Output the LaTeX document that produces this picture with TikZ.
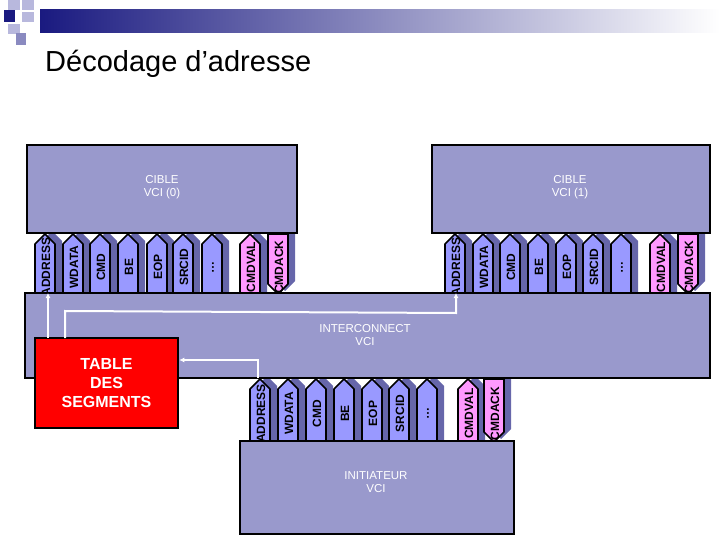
\documentclass[tikz,border=0pt]{standalone}
\usepackage{fontspec}
\setmainfont{Liberation Sans}
\usetikzlibrary{arrows.meta}
\begin{document}
\begin{tikzpicture}[x=1pt,y=-1pt,
  box/.style={draw=black,line width=2.5pt,fill=boxc},
  lbl/.style={text=white,font=\fontsize{11.5}{13}\selectfont,align=center},
  sig/.style={font=\bfseries\fontsize{12}{12}\selectfont,rotate=90,inner sep=0pt},
  wire/.style={draw=white,line width=2pt,-{Latex[length=5pt,width=5pt]}}]
\definecolor{boxc}{HTML}{9999CC}
\definecolor{portc}{HTML}{9999FF}
\definecolor{pinkc}{HTML}{FF99FF}
\definecolor{shadc}{HTML}{6666AA}
\definecolor{navy}{HTML}{1A1A80}
\definecolor{lsq}{HTML}{B8B8DD}
\definecolor{msq}{HTML}{8A8AC0}
\useasboundingbox (0,0) rectangle (720,540);
% header decoration
\shade[left color=navy,right color=white] (40,10) rectangle (720,33);
\fill[lsq] (8,0) rectangle (20,10);
\fill[lsq] (22,0) rectangle (34,10);
\fill[navy] (4,10) rectangle (15,22);
\fill[lsq] (22,12) rectangle (34,22);
\fill[lsq] (8,24) rectangle (20,34);
\fill[msq] (16,33) rectangle (26,45);
\node[anchor=base west,font=\fontsize{29}{32}\selectfont,inner sep=0pt] (title) at (45,72) {Décodage d’adresse};
% port macro
\newcommand\myport[6]{% x, ytop, ybot, label, fill, dir(u/d)
  \if#6u
   \fill[shadc] (#1-3,#3) -- (#1-3,#2+7) -- (#1+7,#2-3) -- (#1+17,#2+7) -- (#1+17,#3) -- cycle;
   \draw[fill=#5,line width=1.6pt,line join=round] (#1-10,#3) -- (#1-10,#2+10) -- (#1,#2) -- (#1+10,#2+10) -- (#1+10,#3) -- cycle;
  \else
   \fill[shadc] (#1-3,#2-3) -- (#1-3,#3-13) -- (#1+7,#3-3) -- (#1+17,#3-13) -- (#1+17,#2-3) -- cycle;
   \draw[fill=#5,line width=1.6pt,line join=round] (#1-10,#2) -- (#1-10,#3-10) -- (#1,#3) -- (#1+10,#3-10) -- (#1+10,#2) -- cycle;
  \fi
  \begin{scope}
  \clip (#1-10,#2) rectangle (#1+10,#3);
  \node[sig] at (#1+1,{(#2+#3)/2+3}) {#4};
  \end{scope}}
% target 0 ports
\foreach \x/\l/\c/\d in {45/ADDRESS/portc/u,73/WDATA/portc/u,100/CMD/portc/u,128/BE/portc/u,157/EOP/portc/u,183/SRCID/portc/u,212/\ldots/portc/u,250/CMDVAL/pinkc/u,278/CMDACK/pinkc/d}
  {\myport{\x}{234}{294}{\l}{\c}{\d}}
% target 1 ports
\foreach \x/\l/\c/\d in {455/ADDRESS/portc/u,483/WDATA/portc/u,510/CMD/portc/u,538/BE/portc/u,566/EOP/portc/u,593/SRCID/portc/u,621/\ldots/portc/u,660/CMDVAL/pinkc/u,688/CMDACK/pinkc/d}
  {\myport{\x}{234}{294}{\l}{\c}{\d}}
% initiator ports
\foreach \x/\l/\c/\d in {260/ADDRESS/portc/u,288/WDATA/portc/u,316/CMD/portc/u,344/BE/portc/u,372/EOP/portc/u,399/SRCID/portc/u,427/\ldots/portc/u,468/CMDVAL/pinkc/u,494/CMDACK/pinkc/d}
  {\myport{\x}{379}{442}{\l}{\c}{\d}}
% boxes
\draw[box] (27,145) rectangle (297,233);
\node[lbl] (t0) at (162,187) {CIBLE\\VCI (0)};
\draw[box] (432,145) rectangle (710,233);
\node[lbl] (t1) at (570,187) {CIBLE\\VCI (1)};
\draw[box] (25,293) rectangle (710,378);
\node[lbl] (ic) at (365,335) {INTERCONNECT\\VCI};
\draw[box] (240,441) rectangle (514,534);
\node[lbl] (ini) at (376,482) {INITIATEUR\\VCI};
\node[draw=black,line width=2.5pt,fill=red,minimum width=143pt,minimum height=90pt,text=white,font=\bfseries\fontsize{16}{19}\selectfont,align=center] (tab) at (106.5,383) {TABLE\\DES\\SEGMENTS};
% white connectors
\coordinate (a0) at (48,293);
\coordinate (a1) at (456,293);
\coordinate (ai) at (258,378);
\draw[wire] (48,338) -- (a0);
\draw[wire] (65,338) -- (65,311) -- (456,313) -- (a1);
\draw[wire] (ai) -- (258,360) -- (tab.east |- 0,360);
\end{tikzpicture}
\end{document}
